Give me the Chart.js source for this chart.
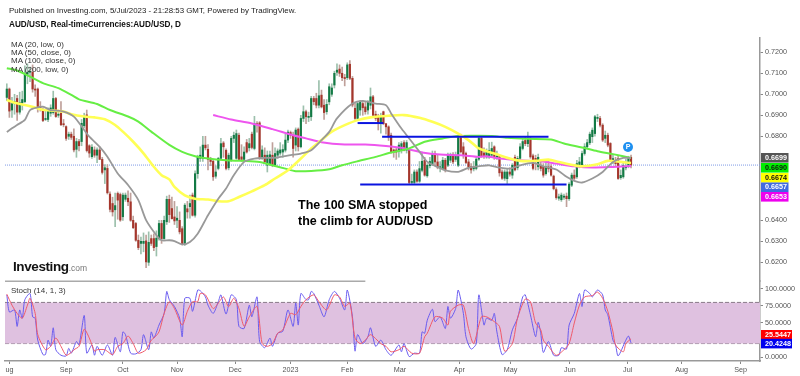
<!DOCTYPE html>
<html>
<head>
<meta charset="utf-8">
<title>AUD/USD</title>
<script src="https://cdn.jsdelivr.net/npm/chart.js@4/dist/chart.umd.min.js"></script>
<style>
  html, body { margin: 0; padding: 0; background: #fff; }
  #wrap { position: relative; width: 800px; height: 376px; overflow: hidden; font-family: "Liberation Sans", Arial, sans-serif; }
  #chartAud { position: absolute; left: 0; top: 0; }
  .txt { position: absolute; white-space: nowrap; color: #222; }
  .legend { font-size: 8px; line-height: 8px; left: 11px; color: #333; }
  #pin { position: absolute; left: 623px; top: 142px; width: 10px; height: 10px; border-radius: 50%; background: #1e90f0; color: #fff; font-size: 7px; font-weight: bold; line-height: 10px; text-align: center; }
</style>
</head>
<body>
<div id="wrap">
  <canvas id="chartAud" width="800" height="376"></canvas>
  <div class="txt" style="left:9px;top:6px;font-size:7.9px;color:#222">Published on Investing.com, 5/Jul/2023 - 21:28:53 GMT, Powered by TradingView.</div>
  <div class="txt" style="left:9px;top:20px;font-size:8.2px;font-weight:bold;color:#111">AUD/USD, Real-timeCurrencies:AUD/USD, D</div>
  <div class="txt legend" style="top:41px">MA (20, low, 0)</div>
  <div class="txt legend" style="top:49px">MA (50, close, 0)</div>
  <div class="txt legend" style="top:57px">MA (100, close, 0)</div>
  <div class="txt legend" style="top:66px">MA (200, low, 0)</div>
  <div class="txt" style="left:298px;top:197px;font-size:12.5px;font-weight:bold;color:#000;line-height:16px">The 100 SMA stopped<br>the climb for AUD/USD</div>
  <div class="txt" style="left:13px;top:259px;font-size:13.5px;font-weight:bold;color:#111;letter-spacing:-0.4px">Investing<span style="font-size:8.5px;font-weight:normal;color:#777;letter-spacing:0">.com</span></div>
  <div class="txt" style="left:11px;top:286px;font-size:8px;color:#333">Stoch (14, 1, 3)</div>
  <div id="pin">P</div>
</div>
<script>
// Velas diarias AUD/USD (una por dia de mercado)
const opens = [
  .6985,.7025,.6925,.6955,.6980,.6915,.6960,.6965,.7095,.7105,
  .7105,.7025,.7025,.6940,.6925,.6880,.6880,.6910,.6913,.6980,
  .6900,.6910,.6860,.6846,.6800,.6810,.6800,.6738,.6775,.6775,
  .6850,.6902,.6755,.6703,.6735,.6710,.6735,.6690,.6640,.6647,
  .6525,.6480,.6450,.6528,.6523,.6417,.6500,.6505,.6488,.6400,
  .6385,.6305,.6290,.6290,.6302,.6200,.6313,.6313,.6275,.6313,
  .6385,.6313,.6393,.6500,.6456,.6416,.6400,.6400,.6360,.6289,
  .6455,.6465,.6520,.6424,.6622,.6695,.6695,.6758,.6738,.6690,
  .6681,.6610,.6647,.6695,.6768,.6733,.6650,.6685,.6790,.6695,
  .6805,.6702,.6690,.6770,.6745,.6810,.6742,.6860,.6864,.6702,
  .6710,.6662,.6670,.6710,.6662,.6710,.6720,.6725,.6734,.6782,
  .6818,.6805,.6758,.6834,.6750,.6885,.6917,.6890,.6893,.6980,
  .6980,.6948,.6996,.6948,.6917,.6964,.7000,.7044,.7105,.7120,
  .7100,.7080,.7079,.7143,.7076,.6933,.6885,.6925,.6956,.6940,
  .6925,.6948,.6988,.6905,.6893,.6860,.6917,.6860,.6845,.6805,
  .6735,.6735,.6729,.6734,.6770,.6734,.6734,.6580,.6580,.6630,
  .6586,.6638,.6686,.6612,.6660,.6670,.6718,.6678,.6650,.6646,
  .6686,.6662,.6686,.6713,.6690,.6662,.6793,.6750,.6718,.6678,
  .6655,.6645,.6647,.6691,.6790,.6720,.6702,.6702,.6710,.6750,
  .6700,.6705,.6630,.6600,.6598,.6630,.6615,.6700,.6650,.6695,
  .6742,.6780,.6765,.6785,.6707,.6695,.6655,.6662,.6657,.6622,
  .6655,.6655,.6610,.6546,.6505,.6498,.6510,.6515,.6503,.6567,
  .6615,.6607,.6662,.6662,.6718,.6750,.6769,.6798,.6813,.6885,
  .6885,.6853,.6790,.6805,.6766,.6678,.6686,.6694,.6603,.6607,
  .6650,.6662,.6700
];
const closes = [
  .7025,.6920,.6955,.6965,.6915,.6960,.6975,.7095,.7105,.7110,
  .7025,.7020,.6940,.6935,.6875,.6885,.6925,.6935,.6980,.6894,
  .6905,.6855,.6855,.6790,.6810,.6795,.6735,.6775,.6755,.6862,
  .6895,.6732,.6720,.6748,.6710,.6735,.6690,.6628,.6650,.6531,
  .6452,.6440,.6470,.6496,.6401,.6520,.6520,.6488,.6400,.6365,
  .6305,.6270,.6300,.6300,.6202,.6295,.6290,.6270,.6315,.6385,
  .6313,.6400,.6500,.6427,.6408,.6397,.6410,.6345,.6289,.6472,
  .6440,.6480,.6424,.6622,.6702,.6710,.6758,.6745,.6690,.6680,
  .6607,.6630,.6695,.6765,.6750,.6647,.6710,.6790,.6805,.6813,
  .6690,.6690,.6725,.6725,.6765,.6747,.6861,.6855,.6697,.6735,
  .6678,.6710,.6712,.6662,.6718,.6730,.6735,.6737,.6782,.6820,
  .6805,.6742,.6830,.6750,.6885,.6917,.6893,.6895,.6980,.6965,
  .6948,.6993,.6940,.6913,.6952,.7036,.7030,.7100,.7115,.7100,
  .7079,.7075,.7140,.7076,.6949,.6885,.6956,.6965,.6936,.6917,
  .6965,.6988,.6900,.6885,.6860,.6893,.6860,.6845,.6797,.6726,
  .6725,.6725,.6758,.6765,.6734,.6770,.6580,.6585,.6630,.6586,
  .6646,.6681,.6615,.6662,.6680,.6718,.6678,.6654,.6655,.6686,
  .6638,.6710,.6713,.6678,.6705,.6793,.6726,.6710,.6675,.6654,
  .6640,.6655,.6691,.6790,.6705,.6705,.6726,.6733,.6742,.6702,
  .6705,.6626,.6600,.6630,.6630,.6620,.6662,.6640,.6695,.6750,
  .6775,.6765,.6790,.6702,.6647,.6680,.6700,.6647,.6615,.6655,
  .6645,.6615,.6551,.6508,.6512,.6520,.6515,.6503,.6572,.6615,
  .6600,.6670,.6678,.6718,.6750,.6770,.6810,.6829,.6893,.6890,
  .6853,.6782,.6805,.6758,.6686,.6694,.6670,.6599,.6614,.6662,
  .6655,.6694,.6663
];
const highs = [
  .7050,.7030,.6985,.7000,.6995,.7010,.7015,.7135,.7145,.7130,
  .7140,.7045,.7030,.6965,.6935,.6925,.6935,.6950,.7015,.6985,
  .6925,.6965,.6880,.6850,.6820,.6820,.6835,.6790,.6785,.6880,
  .6910,.6925,.6760,.6760,.6750,.6745,.6750,.6700,.6665,.6665,
  .6535,.6510,.6530,.6535,.6530,.6530,.6530,.6540,.6530,.6420,
  .6390,.6330,.6320,.6340,.6330,.6345,.6330,.6335,.6350,.6400,
  .6400,.6420,.6515,.6520,.6510,.6490,.6465,.6440,.6370,.6480,
  .6490,.6520,.6530,.6635,.6710,.6750,.6800,.6800,.6760,.6700,
  .6690,.6660,.6700,.6790,.6775,.6740,.6720,.6800,.6820,.6830,
  .6815,.6760,.6750,.6785,.6790,.6820,.6895,.6870,.6870,.6755,
  .6745,.6730,.6730,.6770,.6745,.6740,.6770,.6760,.6810,.6830,
  .6825,.6820,.6840,.6840,.6900,.6945,.6925,.6915,.6990,.6990,
  .7005,.7065,.7020,.6975,.6975,.7050,.7050,.7110,.7145,.7140,
  .7130,.7095,.7150,.7160,.7085,.6960,.6965,.6970,.6970,.6965,
  .6970,.7030,.6995,.6920,.6905,.6910,.6920,.6860,.6850,.6815,
  .6740,.6745,.6770,.6775,.6780,.6780,.6740,.6620,.6640,.6640,
  .6680,.6725,.6700,.6670,.6700,.6730,.6730,.6710,.6680,.6700,
  .6695,.6720,.6720,.6722,.6725,.6800,.6810,.6770,.6725,.6690,
  .6670,.6680,.6700,.6800,.6800,.6745,.6740,.6770,.6772,.6755,
  .6730,.6710,.6640,.6640,.6645,.6650,.6670,.6710,.6705,.6765,
  .6790,.6795,.6820,.6795,.6715,.6710,.6715,.6680,.6670,.6675,
  .6680,.6665,.6615,.6555,.6525,.6530,.6525,.6530,.6580,.6625,
  .6640,.6685,.6700,.6730,.6765,.6785,.6820,.6840,.6900,.6905,
  .6895,.6860,.6825,.6815,.6770,.6710,.6700,.6705,.6640,.6675,
  .6690,.6705,.6710
];
const lows = [
  .6970,.6890,.6890,.6905,.6875,.6905,.6925,.6960,.7050,.7060,
  .7010,.6990,.6915,.6920,.6870,.6875,.6870,.6895,.6905,.6890,
  .6890,.6850,.6845,.6780,.6785,.6785,.6725,.6700,.6730,.6755,
  .6840,.6725,.6700,.6695,.6700,.6675,.6690,.6620,.6575,.6525,
  .6440,.6420,.6370,.6405,.6395,.6400,.6490,.6470,.6395,.6360,
  .6300,.6260,.6240,.6250,.6175,.6185,.6280,.6255,.6230,.6305,
  .6290,.6310,.6380,.6390,.6405,.6380,.6365,.6335,.6282,.6280,
  .6410,.6410,.6420,.6415,.6600,.6680,.6680,.6735,.6640,.6660,
  .6590,.6600,.6640,.6690,.6700,.6640,.6640,.6680,.6770,.6690,
  .6685,.6680,.6685,.6720,.6730,.6740,.6735,.6820,.6690,.6690,
  .6670,.6630,.6660,.6655,.6655,.6695,.6710,.6700,.6725,.6770,
  .6790,.6700,.6730,.6730,.6745,.6870,.6860,.6870,.6875,.6950,
  .6935,.6935,.6935,.6880,.6905,.6950,.6990,.7030,.7090,.7085,
  .7065,.7040,.7070,.7070,.6940,.6880,.6875,.6900,.6900,.6905,
  .6905,.6930,.6890,.6875,.6830,.6815,.6855,.6810,.6780,.6720,
  .6700,.6690,.6700,.6720,.6730,.6720,.6570,.6570,.6572,.6580,
  .6580,.6630,.6610,.6605,.6650,.6660,.6660,.6645,.6630,.6640,
  .6630,.6655,.6675,.6670,.6680,.6655,.6720,.6695,.6670,.6640,
  .6625,.6635,.6640,.6685,.6700,.6695,.6695,.6695,.6700,.6690,
  .6690,.6610,.6595,.6590,.6575,.6610,.6600,.6635,.6640,.6685,
  .6735,.6755,.6750,.6695,.6640,.6640,.6640,.6635,.6605,.6615,
  .6630,.6610,.6545,.6500,.6495,.6490,.6500,.6465,.6495,.6560,
  .6590,.6600,.6650,.6655,.6710,.6740,.6760,.6770,.6800,.6870,
  .6845,.6775,.6770,.6750,.6680,.6670,.6660,.6595,.6595,.6600,
  .6640,.6650,.6650
];

// Medias moviles: dia de mercado y valor
const ma20Days = [0,2,4,7,9,12,14,17,22,26,30,32,36,39,43,47,51,54,58,60,63,65,68,71,74,78,82,85,88,92,96,100,105,110,114,118,122,125,128,134,138,143,147,149,153,157,160,163,167,170,175,179,184,187,191,195,199,204,208,213,217,220,223,227,231,235,239,242];
const ma20 = [.6820,.6838,.6854,.6878,.6925,.6938,.6941,.6925,.6918,.6894,.6830,.6798,.6750,.6703,.6623,.6568,.6496,.6401,.6329,.6305,.6305,.6301,.6285,.6297,.6336,.6424,.6503,.6551,.6615,.6678,.6694,.6697,.6699,.6710,.6718,.6734,.6782,.6821,.6885,.6956,.6969,.6956,.6948,.6909,.6837,.6774,.6726,.6678,.6654,.6638,.6631,.6650,.6659,.6662,.6651,.6646,.6662,.6673,.6657,.6642,.6607,.6588,.6580,.6599,.6630,.6678,.6697,.6697];
const ma50Days = [0,3,7,11,14,18,22,25,30,34,38,42,45,49,53,57,60,63,65,69,73,78,82,86,90,95,100,104,109,114,118,122,125,127,131,136,141,148,154,160,165,170,175,179,183,187,191,195,199,205,210,214,220,223,229,233,238,242];
const ma50 = [.6973,.6960,.6949,.6937,.6926,.6922,.6918,.6905,.6894,.6890,.6881,.6854,.6822,.6774,.6719,.6655,.6615,.6595,.6559,.6519,.6503,.6499,.6491,.6491,.6511,.6538,.6567,.6599,.6638,.6694,.6742,.6782,.6813,.6829,.6853,.6877,.6890,.6898,.6901,.6888,.6869,.6845,.6813,.6782,.6742,.6725,.6710,.6694,.6683,.6683,.6689,.6678,.6662,.6657,.6667,.6683,.6678,.6673];
const ma100Days = [0,4,9,14,20,25,28,35,40,47,51,56,63,68,73,78,85,91,98,103,108,112,118,125,130,136,143,149,156,162,169,175,183,188,194,202,211,216,223,229,235,242];
const ma100 = [.7124,.7113,.7084,.7053,.7029,.6997,.6976,.6954,.6925,.6894,.6870,.6822,.6759,.6726,.6705,.6694,.6686,.6683,.6678,.6662,.6646,.6634,.6635,.6643,.6662,.6681,.6702,.6723,.6742,.6774,.6790,.6801,.6802,.6801,.6793,.6788,.6785,.6766,.6747,.6729,.6715,.6697];
const ma200Days = [80,87,95,103,111,116,122,131,139,147,153,161,168,176,183,186,191,199,207,213,220,227,235,242];
const ma200 = [.6901,.6880,.6861,.6834,.6805,.6790,.6772,.6761,.6761,.6754,.6745,.6723,.6713,.6710,.6702,.6705,.6694,.6686,.6681,.6670,.6657,.6651,.6654,.6658];

// Estocastico: %K azul, %D rojo
const stochKDays = [0,1,3,4,5,6,7,9,10,11,12,14,15,16,17,18,19,21,23,24,25,27,28,30,31,33,34,35,37,39,41,42,44,45,46,48,50,52,53,55,56,57,59,61,62,63,65,67,68,69,71,72,74,75,77,78,80,82,83,85,87,89,90,92,94,95,97,98,100,102,103,105,107,109,111,112,113,114,116,117,118,119,121,123,125,127,129,131,132,134,135,136,138,140,141,143,145,147,149,152,153,154,156,158,160,161,162,163,165,166,168,170,171,172,174,175,177,178,180,182,183,185,186,188,189,190,192,194,196,198,200,201,203,205,206,207,208,210,212,214,215,217,218,220,222,223,224,226,227,229,231,232,233,235,236,237,240,241,242];
const stochK = [91,66,69,45,69,57,84,93,59,57,25,4,4,25,16,43,11,3,2,13,6,23,18,61,6,18,3,16,3,18,3,29,8,37,33,6,5,11,33,11,37,28,47,64,96,84,74,57,30,86,86,67,98,97,88,76,64,81,91,63,91,84,45,42,76,59,88,23,14,28,16,35,38,69,45,79,47,93,84,84,96,93,76,59,84,96,86,69,98,59,9,33,20,30,43,16,25,11,3,18,8,20,1,6,6,37,35,54,70,52,59,42,74,57,71,98,64,30,12,20,91,47,57,54,64,37,4,11,40,57,88,91,62,30,51,35,7,23,3,3,14,12,47,64,93,74,98,93,88,98,91,69,62,25,18,2,25,31,21];
const stochDDays = [0,2,4,6,8,9,11,12,15,17,19,21,23,25,26,28,30,32,34,35,38,41,43,45,47,49,51,54,56,57,59,61,63,65,68,70,72,74,75,77,80,82,84,86,88,90,92,94,97,99,101,103,105,107,110,112,114,116,119,121,124,127,129,131,133,135,137,139,141,145,147,149,152,154,157,160,162,163,166,169,171,172,175,177,179,181,184,186,189,191,193,196,198,201,203,205,207,208,210,213,216,218,220,222,224,227,229,231,233,235,236,239,240,242];
const stochD = [92,76,64,57,76,86,64,33,11,16,28,16,3,7,11,16,41,28,9,11,11,4,16,20,31,20,6,11,25,28,37,64,81,71,47,67,81,81,93,91,71,79,88,74,86,71,45,59,74,20,16,20,35,40,64,62,74,84,91,81,69,91,88,74,79,28,20,25,33,20,16,8,11,16,6,6,30,35,59,57,47,67,76,76,42,20,59,59,52,45,9,20,57,85,81,50,40,25,16,3,11,20,50,76,88,90,95,86,67,37,18,8,20,27];

// Ejes y etiquetas
const tickDays = [1,23,45,66,88.5,110,132,152.4,175.4,195.3,218.3,240.7,261.6,284.5];
const tickLabels = ['ug','Sep','Oct','Nov','Dec','2023','Feb','Mar','Apr','May','Jun','Jul','Aug','Sep'];
const priceTicks = [0.72,0.71,0.70,0.69,0.68,0.64,0.63,0.62];
const stochTicks = [100,75,50,0];
const bandHigh = 80;
const bandLow = 20;
const lastPrice = 0.6663;

// Lineas azules dibujadas a mano sobre el grafico
const drawnDays = [[136,146],[145.5,210],[137,217]];
const drawnLevels = [0.6863,0.6798,0.6571];
const dividerDays = [-0.7,139];
const dividerLevel = 111;

// Cajas de ultimo valor en el eje derecho
const lastLabels = ['0.6699','0.6690','0.6674','0.6657','0.6653','25.5447','20.4248'];
const lastColors = ['#555555','#00ee00','#ffff00','#4169e1','#ee00ee','#ff0000','#0000ee'];
const lastText = ['#fff','#111','#111','#fff','#fff','#fff','#fff'];
const lastTops = [153,163,173,182.5,192,330,338.8];

const X_MIN = -0.7;
const X_MAX = 292;
const GREEN = '#137a45';
const RED = '#a5362c';

function pairs(days, values) {
  return days.map((d, i) => ({ x: d, y: values[i] }));
}

function lineSet(days, values, color, width, axis, order) {
  return {
    type: 'line',
    data: pairs(days, values),
    borderColor: color,
    borderWidth: width,
    pointRadius: 0,
    tension: 0.25,
    yAxisID: axis,
    order: order
  };
}

function flatSet(x0, x1, level, color, width, axis, order, dash) {
  return {
    type: 'line',
    data: [{ x: x0, y: level }, { x: x1, y: level }],
    borderColor: color,
    borderWidth: width,
    borderDash: dash || [],
    pointRadius: 0,
    yAxisID: axis,
    order: order,
    clip: false
  };
}

const bodies = opens.map((o, i) => ({ x: i, y: [o, closes[i]] }));
const wicks = lows.map((l, i) => ({ x: i, y: [l, highs[i]] }));
const isUp = ctx => closes[ctx.dataIndex] >= opens[ctx.dataIndex];

// Banda del estocastico: relleno entre 80 y 20
const bandTop = flatSet(X_MIN, X_MAX, bandHigh, '#8a7a8a', 1, 'y2', 30, [4, 2]);
bandTop.fill = '+1';
bandTop.backgroundColor = '#dfc1e0';
const bandBottom = flatSet(X_MIN, X_MAX, bandLow, '#8a7a8a', 1, 'y2', 30, [4, 2]);

const datasets = [
  { data: wicks, backgroundColor: ctx => isUp(ctx) ? '#9cc0ac' : '#bfa09a', barThickness: 1, grouped: false, yAxisID: 'y', order: 21 },
  { data: bodies, backgroundColor: ctx => isUp(ctx) ? GREEN : RED, barThickness: 1.5, grouped: false, yAxisID: 'y', order: 20 },
  flatSet(X_MIN, X_MAX, lastPrice, '#7f9be6', 1, 'y', 25, [1, 1]),
  lineSet(ma200Days, ma200, '#ee55ee', 2, 'y', 10),
  lineSet(ma100Days, ma100, '#66ee44', 2, 'y', 9),
  lineSet(ma50Days, ma50, '#ffff55', 2.6, 'y', 8),
  lineSet(ma20Days, ma20, '#999999', 1.8, 'y', 7),
  bandTop,
  bandBottom,
  flatSet(dividerDays[0], dividerDays[1], dividerLevel, '#aaaaaa', 1.5, 'y2', 6),
  lineSet(stochKDays, stochK, '#6a5cf0', 1, 'y2', 5),
  lineSet(stochDDays, stochD, '#f05a6a', 1, 'y2', 4)
];

drawnLevels.forEach((level, i) => {
  datasets.push(flatSet(drawnDays[i][0], drawnDays[i][1], level, '#0a14e0', 2, 'y', 3));
});

// Cajas de valor sobre el eje derecho
const lastBoxes = {
  id: 'lastBoxes',
  afterDraw(chart) {
    const ctx = chart.ctx;
    ctx.save();
    ctx.font = 'bold 7.2px "Liberation Sans", Arial, sans-serif';
    ctx.textBaseline = 'middle';
    ctx.textAlign = 'left';
    lastLabels.forEach((label, i) => {
      const w = label.length > 6 ? 31 : 27.5;
      ctx.fillStyle = lastColors[i];
      ctx.fillRect(761, lastTops[i], w, 9.6);
      ctx.fillStyle = lastText[i];
      ctx.fillText(label, 765, lastTops[i] + 5);
    });
    ctx.restore();
  }
};

const axisFont = { family: '"Liberation Sans", Arial, sans-serif', size: 7.2 };

new Chart(document.getElementById('chartAud'), {
  type: 'bar',
  data: { datasets: datasets },
  plugins: [lastBoxes],
  options: {
    responsive: false,
    animation: false,
    events: [],
    layout: { padding: { left: 5, top: 38, right: 0, bottom: 0 } },
    plugins: { legend: { display: false }, tooltip: { enabled: false } },
    scales: {
      x: {
        type: 'linear',
        offset: false,
        min: X_MIN,
        max: X_MAX,
        afterBuildTicks: scale => { scale.ticks = tickDays.map(d => ({ value: d })); },
        afterFit: scale => { scale.height = 15; },
        grid: { offset: false, drawOnChartArea: false, tickLength: 3, color: '#888' },
        border: { color: '#999', width: 1.5 },
        ticks: {
          autoSkip: false,
          maxRotation: 0,
          padding: 2,
          color: '#555',
          font: axisFont,
          callback: (value, index) => tickLabels[index]
        }
      },
      y: {
        position: 'right',
        stack: 'right',
        stackWeight: 243,
        min: 0.6111,
        max: 0.7268,
        afterBuildTicks: scale => { scale.ticks = priceTicks.map(v => ({ value: v })); },
        afterFit: scale => { scale.width = 40; },
        grid: { drawOnChartArea: false, tickLength: 3, color: '#888' },
        border: { color: '#999', width: 1.5 },
        ticks: { padding: 2, color: '#555', font: axisFont, callback: v => v.toFixed(4) }
      },
      y2: {
        position: 'right',
        stack: 'right',
        stackWeight: 80,
        min: -5.4,
        max: 111.2,
        afterBuildTicks: scale => { scale.ticks = stochTicks.map(v => ({ value: v })); },
        afterFit: scale => { scale.width = 40; },
        grid: { drawOnChartArea: false, tickLength: 3, color: '#888' },
        border: { color: '#999', width: 1.5 },
        ticks: { padding: 2, color: '#555', font: axisFont, callback: v => v.toFixed(4) }
      }
    }
  }
});
</script>
</body>
</html>
